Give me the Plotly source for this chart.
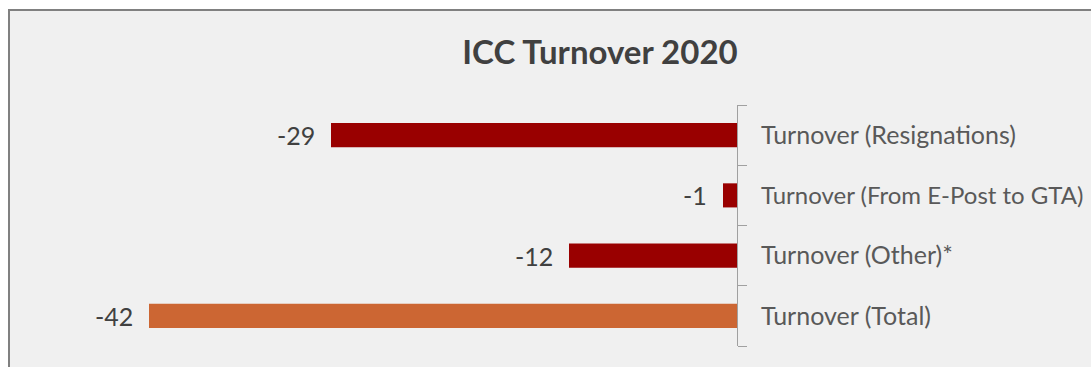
import plotly.graph_objects as go

categories = ["Turnover (Resignations)", "Turnover (From E-Post to GTA)", "Turnover (Other)*", "Turnover (Total)"]
values = [-29, -1, -12, -42]
colors = ["#990000", "#990000", "#990000", "#CC6633"]
title_text = "ICC Turnover 2020"

W, H = 1091, 367
ml, mr, mt, mb = 100, 354, 105, 21
pw = W - ml - mr
ph = H - mt - mb
px_per_unit = 14.0

fig = go.Figure(go.Bar(
    y=categories, x=values, orientation="h",
    marker=dict(color=colors, line=dict(width=0)),
    width=0.4,
    cliponaxis=False,
))

for c, v in zip(categories, values):
    fig.add_annotation(x=v, y=c, xref="x", yref="y", text=str(v), showarrow=False,
                       xanchor="right", yanchor="middle", xshift=-14,
                       font=dict(family="Lato", size=25, color="#404040"))

def px_x(p):
    return (p - ml) / pw

def px_y(p):
    return (H - mb - p) / ph

fig.add_shape(type="rect", xref="paper", yref="paper", layer="below",
              x0=px_x(9), x1=px_x(1200), y0=px_y(400), y1=px_y(10),
              fillcolor="#F0F0F0", line=dict(color="#808080", width=2))

tick_text = [c if len(c) < 25 else '<span style="font-size:24px">' + c + '</span>' for c in categories]

fig.update_layout(
    width=W, height=H,
    margin=dict(l=ml, r=mr, t=mt, b=mb, autoexpand=False),
    paper_bgcolor="white", plot_bgcolor="rgba(0,0,0,0)",
    showlegend=False,
    title=dict(text="<b>" + title_text + "</b>", x=600 / W, xanchor="center", xref="container",
               y=1 - 52 / H, yanchor="middle", yref="container",
               font=dict(family="Lato", size=33, color="#404040")),
    xaxis=dict(range=[-pw / px_per_unit, 0], visible=False, fixedrange=True, automargin=False),
    yaxis=dict(side="right", autorange="reversed", type="category", automargin=False,
               tickmode="array", tickvals=categories, ticktext=tick_text,
               showline=True, linecolor="#A0A0A0", linewidth=1,
               ticks="outside", ticklen=9, tickcolor="#A0A0A0", tickwidth=1,
               tickson="boundaries", showgrid=False, zeroline=False,
               ticklabelstandoff=18,
               tickfont=dict(family="Lato", size=25, color="#595959")),
)

fig.write_html("out.html")
